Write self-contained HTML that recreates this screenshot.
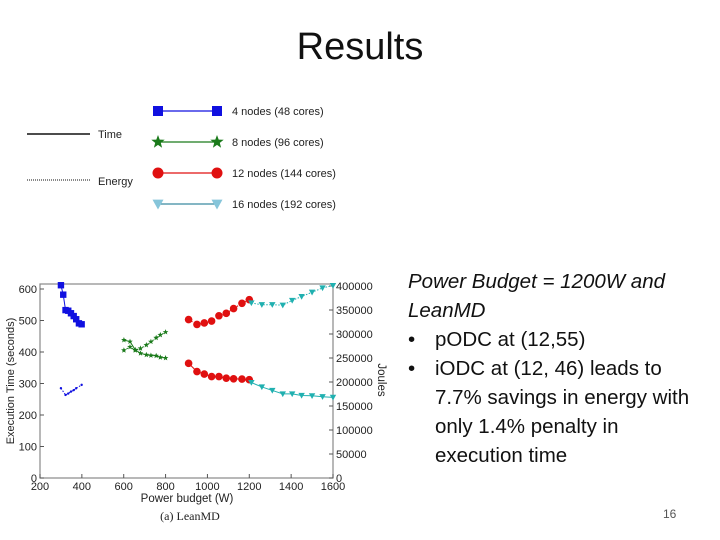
<!DOCTYPE html>
<html><head><meta charset="utf-8"><style>
body{margin:0;background:#fff;width:720px;height:540px;overflow:hidden;position:relative;font-family:"Liberation Sans",sans-serif}
.t{position:absolute;white-space:nowrap}
</style></head><body>
<div class="t" style="left:0;width:720px;text-align:center;top:26px;font-size:38px;color:#111">Results</div>
<div style="position:absolute;left:408px;top:267px;font-size:20.5px;line-height:29px;color:#111;white-space:nowrap">
<div style="font-style:italic">Power Budget = 1200W and</div>
<div style="font-style:italic">LeanMD</div>
<div><span style="display:inline-block;width:27px">•</span>pODC at (12,55)</div>
<div><span style="display:inline-block;width:27px">•</span>iODC at (12, 46) leads to</div>
<div style="padding-left:27px">7.7% savings in energy with</div>
<div style="padding-left:27px">only 1.4% penalty in</div>
<div style="padding-left:27px">execution time</div>
</div>
<div class="t" style="left:663px;top:507px;font-size:12px;color:#555">16</div>
<svg id="c" width="720" height="540" style="position:absolute;left:0;top:0"></svg>
<script>
const xsBlue=[300,311,322,335,348,361,373,386,399];
const tBlue=[612,582,533,531,523,514,504,491,488];
const eBlueX=[300,322,335,348,361,373,399];
const eBlue=[187000,173000,176000,180000,183000,187000,194000];
const xsGreen=[601,630,655,680,708,730,755,775,800];
const tGreen=[438,433,407,396,391,389,388,383,381];
const eGreen=[266000,273000,266000,270000,277000,284000,292000,298000,304000];
const xsRed=[910,950,985,1020,1055,1090,1125,1165,1200];
const tRed=[364,338,330,322,322,317,315,314,312];
const eRed=[330000,320000,323000,327000,338000,343000,353000,364000,371500];
const xsCyan=[1210,1260,1310,1360,1405,1450,1500,1550,1600];
const tCyan=[303,289,278,267,267,262,261,258,256];
const eCyan=[364700,361000,361000,360000,370000,378000,387000,396000,401000];
const xTicks=[200,400,600,800,1000,1200,1400,1600];
const yTicks=[0,100,200,300,400,500,600];
const jTicks=[0,50000,100000,150000,200000,250000,300000,350000,400000];

const L=40,R=333,T=284,B=478;
const X=v=>L+(v-200)/1400*(R-L);
const Y=v=>478-v/600*189;
const J=v=>478-v/400000*192;
const svg=document.getElementById('c');
const NS='http://www.w3.org/2000/svg';
function mk(tag,at,parent){const e=document.createElementNS(NS,tag);for(const k in at)e.setAttribute(k,at[k]);(parent||svg).appendChild(e);return e;}
function txt(s,at){const e=mk('text',at);e.textContent=s;return e;}

const frame=mk('rect',{x:L,y:T,width:R-L,height:B-T,fill:'none',stroke:'#888','stroke-width':1.2});


xTicks.forEach(v=>{mk('line',{x1:X(v),x2:X(v),y1:B,y2:B-4,stroke:'#555'});
 const t=txt(v,{x:X(v),y:B+12,'font-size':11,'text-anchor':'middle',fill:'#222'});
 
 });
yTicks.forEach(v=>{mk('line',{x1:L,x2:L+4,y1:Y(v),y2:Y(v),stroke:'#555'});
 const t=txt(v,{x:L-3,y:Y(v)+4,'font-size':11,'text-anchor':'end',fill:'#222'});
 
 });
jTicks.forEach(v=>{mk('line',{x1:R,x2:R-4,y1:J(v),y2:J(v),stroke:'#555'});
 const t=txt(v,{x:R+3,y:J(v)+4,'font-size':11,fill:'#222'});
 
 });
let a=txt('Power budget (W)',{x:187,y:502,'font-size':11.5,'text-anchor':'middle',fill:'#222'});


a=txt('Execution Time (seconds)',{x:14,y:381,'font-size':11,'text-anchor':'middle',fill:'#222',transform:'rotate(-90 14 381)'});


a=txt('Joules',{x:378,y:380,'font-size':11.5,'text-anchor':'middle',fill:'#222',transform:'rotate(90 378 380)'});


a=txt('(a) LeanMD',{x:190,y:520,'font-size':12,'text-anchor':'middle',fill:'#222','font-family':'Liberation Serif, serif'});



function marker(kind,cx,cy,s,col,g){
 if(kind==='sq')return mk('rect',{x:cx-s,y:cy-s,width:2*s,height:2*s,fill:col},g);
 if(kind==='ci')return mk('circle',{cx,cy,r:s,fill:col},g);
 if(kind==='tri')return mk('polygon',{points:`${cx-s},${cy-s*0.8} ${cx+s},${cy-s*0.8} ${cx},${cy+s}`,fill:col},g);
 if(kind==='st'){let p=[];for(let i=0;i<10;i++){const r=i%2?s*0.42:s;const an=-Math.PI/2+i*Math.PI/5;p.push((cx+r*Math.cos(an)).toFixed(1)+','+(cy+r*Math.sin(an)).toFixed(1));}
  return mk('polygon',{points:p.join(' '),fill:col},g);}
}
function series(name,xs,vs,fy,col,kind,s,dash){
 const g=mk('g',{});
 
 
 const pts=xs.map((x,i)=>X(x)+','+fy(vs[i])).join(' ');
 const at={points:pts,fill:'none',stroke:col,'stroke-width':1};
 if(dash)at['stroke-dasharray']='1.5,1.5';
 mk('polyline',at,g);
 xs.forEach((x,i)=>marker(kind,X(x),fy(vs[i]),s,col,g));
}
series('time-4-nodes',xsBlue,tBlue,Y,'#1010e0','sq',3.2);
series('energy-4-nodes',eBlueX,eBlue,J,'#1010e0','ci',1.2,true);
series('time-8-nodes',xsGreen,tGreen,Y,'#1a7a1a','st',3);
series('energy-8-nodes',xsGreen,eGreen,J,'#1a7a1a','st',3,true);
series('time-12-nodes',xsRed,tRed,Y,'#e01010','ci',3.8);
series('energy-12-nodes',xsRed,eRed,J,'#e01010','ci',3.8,true);
series('time-16-nodes',xsCyan,tCyan,Y,'#20b0b0','tri',3.2);
series('energy-16-nodes',xsCyan,eCyan,J,'#20b0b0','tri',3.2,true);

// legend
const lg=mk('g',{});


mk('line',{x1:27,x2:90,y1:134,y2:134,stroke:'#111','stroke-width':1.5},lg);
mk('line',{x1:27,x2:90,y1:180,y2:180,stroke:'#111','stroke-width':1,'stroke-dasharray':'1,1'},lg);
[['Time',134],['Energy',181]].forEach(([s,y])=>{const e=mk('text',{x:98,y:y+4,'font-size':11,fill:'#222'},lg);e.textContent=s;});
const ent=[['4 nodes (48 cores)','#1010e0','sq',5,'#1010e0'],['8 nodes (96 cores)','#1a7a1a','st',7,'#1a7a1a'],['12 nodes (144 cores)','#e01010','ci',5.5,'#e01010'],['16 nodes (192 cores)','#86c5da','tri',5.5,'#3a8aa0']];
ent.forEach((e,i)=>{const y=111+i*31;
 mk('line',{x1:158,x2:217,y1:y,y2:y,stroke:e[4],'stroke-width':1.3},lg);
 marker(e[2],158,y,e[3],e[1],lg);marker(e[2],217,y,e[3],e[1],lg);
 const t=mk('text',{x:232,y:y+4,'font-size':11,fill:'#222'},lg);t.textContent=e[0];});
</script>
</body></html>
